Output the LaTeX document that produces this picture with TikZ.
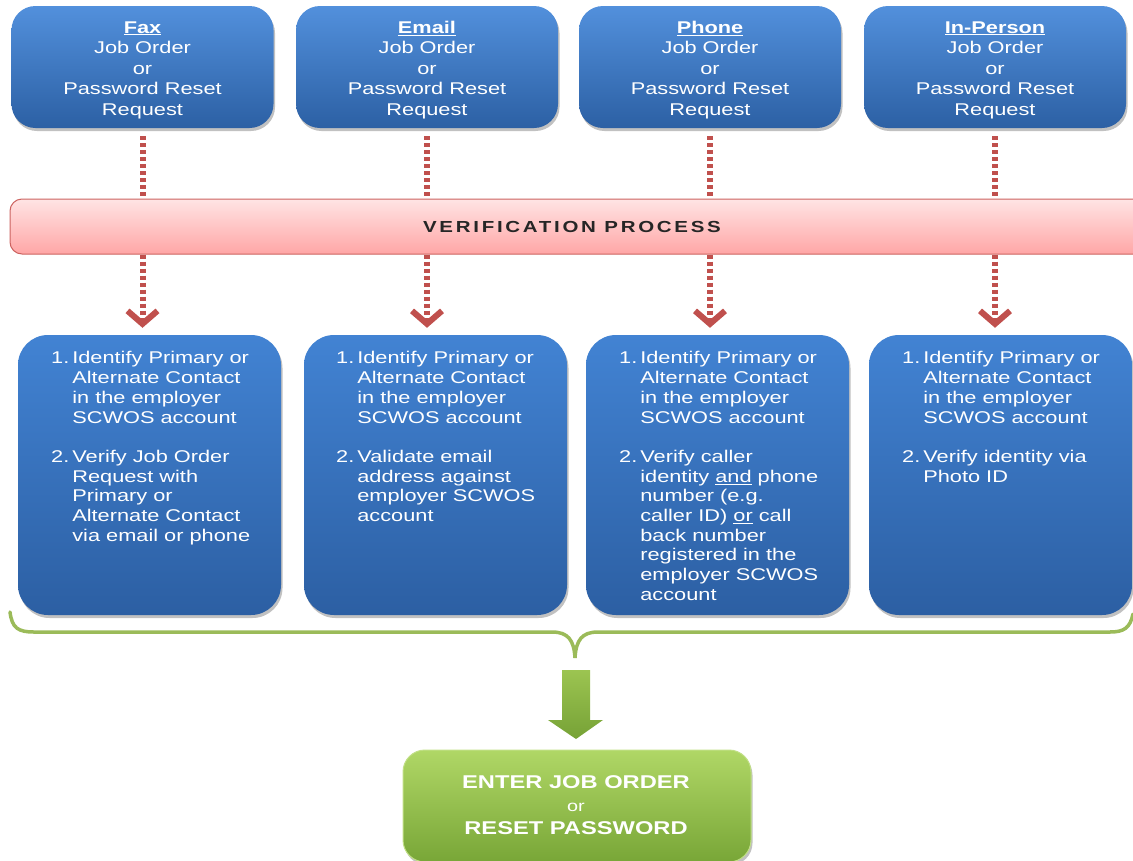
\documentclass[tikz,border=0pt]{standalone}
\usepackage{fontspec}
\setmainfont{Liberation Sans}[FakeStretch=1.28]
\usetikzlibrary{shadows,arrows.meta}
\definecolor{topA}{HTML}{5290DC}
\definecolor{topB}{HTML}{2C60A4}
\definecolor{lstA}{HTML}{4283D3}
\definecolor{lstB}{HTML}{2C5FA3}
\definecolor{pinkA}{HTML}{FFE4E4}
\definecolor{pinkB}{HTML}{FFA6A6}
\definecolor{pinkD}{HTML}{CC6360}
\definecolor{dotred}{HTML}{C0504D}
\definecolor{grnA}{HTML}{B0D766}
\definecolor{grnB}{HTML}{78A637}
\definecolor{grnL}{HTML}{9BBB59}
\definecolor{grnArA}{HTML}{9CC451}
\definecolor{grnArB}{HTML}{76A236}
\begin{document}
\begin{tikzpicture}[x=1pt,y=1pt,
  boxshadow/.style={drop shadow={shadow xshift=1.5pt,shadow yshift=-3pt,opacity=0.35,fill=black!70}},
  topbox/.style={rounded corners=24pt, minimum width=262pt, minimum height=122pt,
    top color=topA, bottom color=topB, inner sep=0pt, boxshadow},
  toptxt/.style={text=white, align=center, inner sep=0pt,
    font=\fontsize{17}{20.5}\selectfont},
  listbox/.style={rounded corners=30pt, minimum width=263pt, minimum height=280pt,
    top color=lstA, bottom color=lstB, inner sep=0pt, boxshadow},
  listtxt/.style={anchor=north west, inner sep=0pt, text=white,
    font=\fontsize{17}{19.7}\selectfont},
  verbar/.style={rounded corners=12pt, minimum width=1140pt, minimum height=55pt,
    top color=pinkA, bottom color=pinkB, draw=pinkD, line width=1pt, inner sep=0pt},
  vertxt/.style={inner sep=0pt, text=black!85,
    font=\fontsize{16}{18}\selectfont\bfseries\addfontfeature{LetterSpace=17}},
  dotline/.style={draw=dotred, line width=6pt, dash pattern=on 4pt off 3pt},
  dotarrow/.style={dotline, -{Straight Barb[length=13pt,width=30pt,line width=6pt]}},
  brace/.style={draw=grnL, line width=3.5pt, line cap=round},
  endbox/.style={rounded corners=22pt, minimum width=348pt, minimum height=112pt,
    top color=grnA, bottom color=grnB, draw=grnA!80!white, line width=1pt,
    inner sep=0pt, boxshadow},
  endtxt/.style={text=white, align=center, inner sep=0pt,
    font=\fontsize{18.5}{23}\selectfont\bfseries}
]
\useasboundingbox (0,0) rectangle (1133,-860);
\clip (0,0) rectangle (1133,-860);

% top boxes
\node[topbox] (fax) at (142.5,-67) {};
\node[topbox] (email) at (427,-67) {};
\node[topbox] (phone) at (710,-67) {};
\node[topbox] (inper) at (995,-67) {};
\foreach \n/\t in {fax/Fax,email/Email,phone/Phone,inper/In-Person}{
  \node[toptxt] (\n txt) at ([yshift=-3pt]\n.center) {\textbf{\underline{\t}}\\Job Order\\or\\Password Reset\\Request};
}

% verification bar
\node[verbar] (bar) at (580,-226.5) {};
\node[vertxt] (bartxt) at (572,-227) {VERIFICATION PROCESS};

% list boxes
\node[listbox] (lfax) at (149.5,-475) {};
\node[listbox] (lemail) at (435.5,-475) {};
\node[listbox] (lphone) at (717.5,-475) {};
\node[listbox] (linper) at (1000.5,-475) {};

\node[listtxt] (tfax) at (51,-350) {\begin{tabular}{@{}l@{\hspace{3pt}}l@{}}
1. & Identify Primary or\\ & Alternate Contact\\ & in the employer\\ & SCWOS account\\ & \\
2. & Verify Job Order\\ & Request with\\ & Primary or\\ & Alternate Contact\\ & via email or phone
\end{tabular}};
\node[listtxt] (temail) at (336,-350) {\begin{tabular}{@{}l@{\hspace{3pt}}l@{}}
1. & Identify Primary or\\ & Alternate Contact\\ & in the employer\\ & SCWOS account\\ & \\
2. & Validate email\\ & address against\\ & employer SCWOS\\ & account
\end{tabular}};
\node[listtxt] (tphone) at (619,-350) {\begin{tabular}{@{}l@{\hspace{3pt}}l@{}}
1. & Identify Primary or\\ & Alternate Contact\\ & in the employer\\ & SCWOS account\\ & \\
2. & Verify caller\\ & identity \underline{and} phone\\ & number (e.g.\\ & caller ID) \underline{or} call\\ & back number\\ & registered in the\\ & employer SCWOS\\ & account
\end{tabular}};
\node[listtxt] (tinper) at (902,-350) {\begin{tabular}{@{}l@{\hspace{3pt}}l@{}}
1. & Identify Primary or\\ & Alternate Contact\\ & in the employer\\ & SCWOS account\\ & \\
2. & Verify identity via\\ & Photo ID
\end{tabular}};

% dotted connectors
\foreach \t/\b in {fax/lfax,email/lemail,phone/lphone,inper/linper}{
  \draw[dotline, shorten <=8pt] (\t.south) -- (\t.south |- bar.north);
  \draw[dotarrow, shorten >=7pt] (\t.south |- bar.south) -- (\t.south |- \b.north);
}

% green brace
\coordinate (bl) at (10,-612);
\coordinate (bm) at (575,-658);
\coordinate (br) at (1133,-614);
\draw[brace] (bl) .. controls (12,-628) and (18,-632) .. (34,-632) -- (552,-632)
  .. controls (568,-632) and (574,-640) .. (bm)
  .. controls (576,-640) and (582,-632) .. (598,-632) -- (1110,-632)
  .. controls (1124,-632) and (1130,-628) .. (br);

% final box
\node[endbox] (final) at (577,-806) {};
\node[endtxt] (finaltxt) at (576,-805) {ENTER JOB ORDER\\
  {\mdseries\fontsize{15.5}{23}\selectfont or}\\
  RESET PASSWORD};

% green block arrow
\shade[top color=grnArA, bottom color=grnArB]
  (562,-670) -- (590,-670) -- (590,-720) -- (603,-720) -- (576,-739)
  -- (548,-720) -- (562,-720) -- cycle;
\end{tikzpicture}
\end{document}
